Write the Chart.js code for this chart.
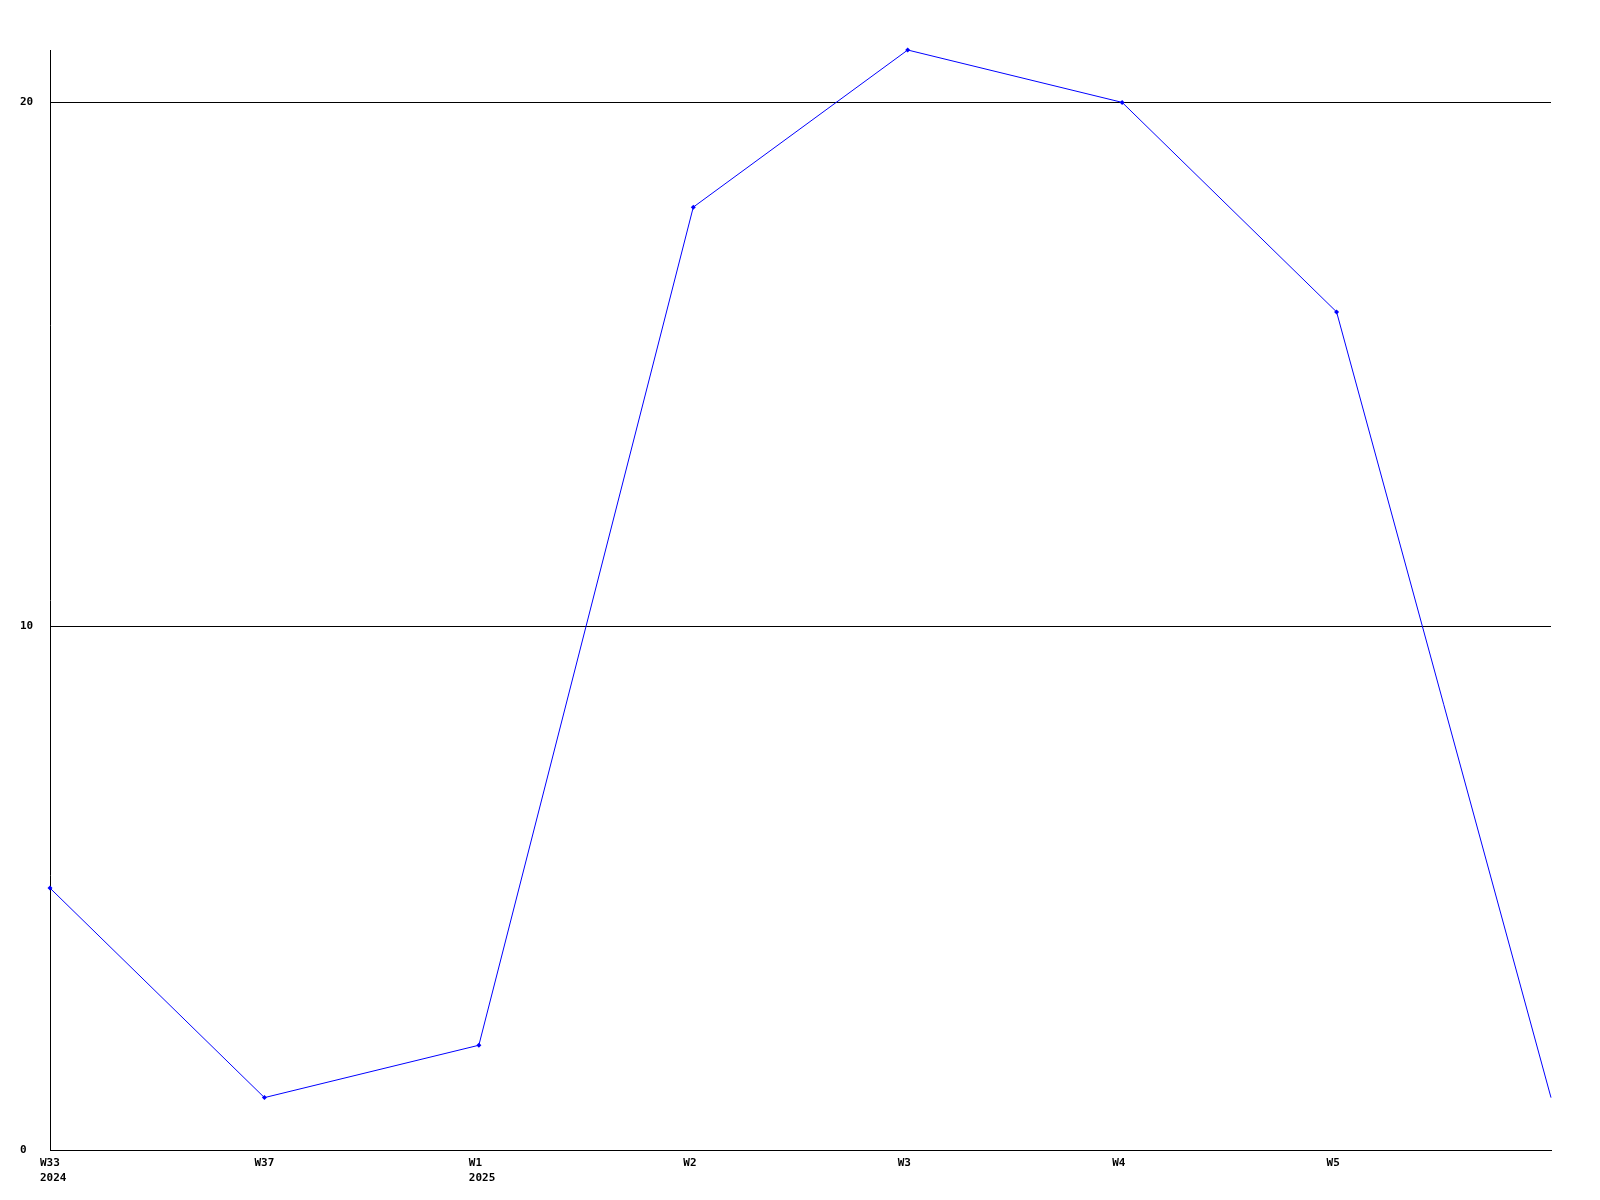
<!DOCTYPE html>
<html>
<head>
<meta charset="utf-8">
<script src="https://cdn.jsdelivr.net/npm/chart.js@4/dist/chart.umd.min.js"></script>
<style>
  html, body { margin: 0; padding: 0; background: #fff; }
  #wrap { width: 1600px; height: 1200px; }
</style>
</head>
<body>
<div id="wrap"><canvas id="weekly" width="1600" height="1200"></canvas></div>
<script>
  // weekly counts
  const weekLabels = [['W33', '2024'], 'W37', ['W1', '2025'], 'W2', 'W3', 'W4', 'W5', ''];
  const counts = [5, 1, 2, 18, 21, 20, 16, 1];
  const yStep = 10;

  const tickFont = { family: 'DejaVu Sans Mono', size: 11, weight: 'bold', lineHeight: '15px' };
  const lastIdx = counts.length - 1;

  new Chart(document.getElementById('weekly'), {
    type: 'line',
    data: {
      labels: weekLabels,
      datasets: [
        {
          label: 'count',
          data: counts,
          borderColor: '#0000ff',
          backgroundColor: '#0000ff',
          borderWidth: 1,
          tension: 0,
          fill: false,
          clip: false,
          pointStyle: 'rectRot',
          pointRadius: ctx => (ctx.dataIndex === lastIdx ? 0 : 2.5),
          pointBorderWidth: 0
        }
      ]
    },
    options: {
      responsive: false,
      animation: false,
      layout: { padding: { left: 20, right: 49, top: 50, bottom: 0 } },
      plugins: { legend: { display: false }, tooltip: { enabled: false } },
      scales: {
        x: {
          offset: false,
          grid: { display: false, drawTicks: false },
          border: { display: true, color: '#000', width: 1 },
          ticks: {
            color: '#000',
            font: tickFont,
            autoSkip: false,
            maxRotation: 0,
            minRotation: 0,
            align: 'start',
            labelOffset: -10,
            padding: 6
          },
          afterFit: s => { s.height = 50; }
        },
        y: {
          min: 0,
          max: Math.max(...counts),
          grid: { color: '#000', lineWidth: 1, drawTicks: false },
          border: { display: true, color: '#000', width: 1 },
          ticks: {
            stepSize: yStep,
            includeBounds: false,
            color: '#000',
            font: tickFont,
            crossAlign: 'far',
            padding: 0
          },
          afterFit: s => { s.width = 30; }
        }
      }
    }
  });
</script>
</body>
</html>
